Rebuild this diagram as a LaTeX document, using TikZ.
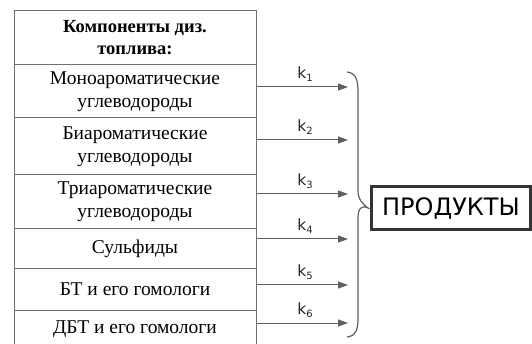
\documentclass[tikz,border=0pt]{standalone}
\usepackage{fontspec}
\setmainfont{Liberation Serif}
\newfontfamily\sansf{DejaVu Sans}
\usetikzlibrary{arrows.meta}
\definecolor{gridgray}{HTML}{707070}
\definecolor{arrgray}{HTML}{5E5E5E}
\definecolor{boxdark}{HTML}{333333}
\tikzset{
  cell/.style={draw=gridgray, line width=1pt, minimum width=242pt, inner sep=0pt,
    align=center, font=\fontsize{19.5}{23}\selectfont, text=black},
  headcell/.style={cell, font=\fontsize{18.5}{22}\selectfont\bfseries},
  flow/.style={draw=arrgray, line width=1pt, -{Triangle[length=10pt,width=7pt]}},
  rate/.style={font=\sansf\fontsize{15.5}{18}\selectfont, text=black!85, inner sep=1pt, anchor=south},
  brace/.style={draw=arrgray, line width=1.2pt},
  prodbox/.style={draw=boxdark, line width=3pt, minimum width=159pt, minimum height=43pt,
    inner sep=0pt, font=\sansf\fontsize{24}{28}\selectfont, text=black}
}
\newcommand{\kk}[1]{k\raisebox{-3pt}{\fontsize{10}{12}\selectfont #1}}
\begin{document}
\begin{tikzpicture}[x=1pt, y=-1pt]
\useasboundingbox (0,0) rectangle (532,344);
% table of fuel components
\node[headcell, minimum height=54.5pt] (h) at (135,37.75) {Компоненты диз.\\топлива:};
\node[cell, minimum height=53pt]   (r1) at (135,91.5)  {Моноароматические\\углеводороды};
\node[cell, minimum height=57pt]   (r2) at (135,146.5) {Биароматические\\углеводороды};
\node[cell, minimum height=54pt]   (r3) at (135,202)   {Триароматические\\углеводороды};
\node[cell, minimum height=40pt]   (r4) at (135,249)   {Сульфиды};
\node[cell, minimum height=41pt]   (r5) at (135,289.5) {БТ и его гомологи};
\node[cell, minimum height=38pt]   (r6) at (135,329)   {ДБТ и его гомологи};
% arrow ends in front of the brace
\coordinate (e1) at (348,87);
\coordinate (e2) at (348,140);
\coordinate (e3) at (348,194);
\coordinate (e4) at (348,239);
\coordinate (e5) at (348,285);
\coordinate (e6) at (348,323);
\draw[flow] (r1.east |- e1) -- node[rate, pos=0.53, yshift=4pt] {\kk{1}} (e1);
\draw[flow] (r2.east |- e2) -- node[rate, pos=0.53, yshift=4pt] {\kk{2}} (e2);
\draw[flow] (r3.east |- e3) -- node[rate, pos=0.53, yshift=4pt] {\kk{3}} (e3);
\draw[flow] (r4.east |- e4) -- node[rate, pos=0.53, yshift=4pt] {\kk{4}} (e4);
\draw[flow] (r5.east |- e5) -- node[rate, pos=0.53, yshift=4pt] {\kk{5}} (e5);
\draw[flow] (r6.east |- e6) -- node[rate, pos=0.53, yshift=4pt] {\kk{6}} (e6);
% products box
\node[prodbox] (prod) at (451,208) {ПРОДУКТЫ};
% curly brace gathering all the arrows
\draw[brace] (347,72) .. controls (356,73) and (358,80) .. (358,92)
  -- (358,190) .. controls (358,200) and (362,203) .. ([xshift=-2pt]prod.west)
  .. controls (362,205) and (358,208) .. (358,218)
  -- (358,318) .. controls (358,330) and (356,336) .. (347,337);
\end{tikzpicture}
\end{document}
